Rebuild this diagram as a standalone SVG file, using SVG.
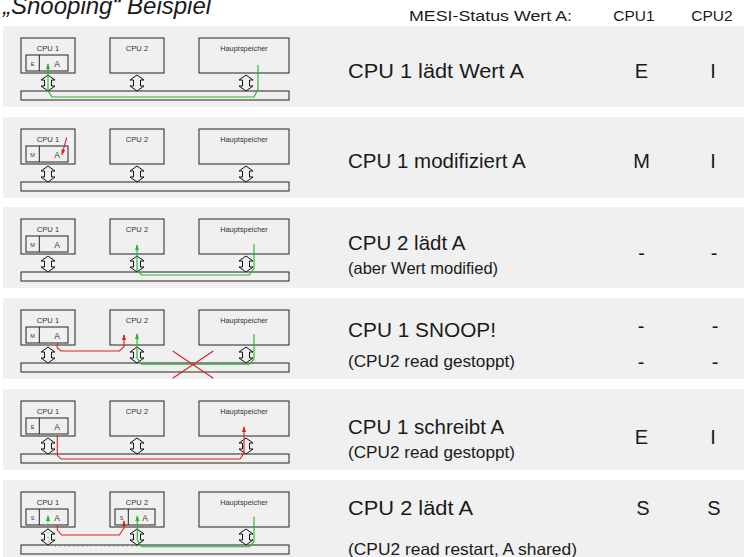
<svg xmlns="http://www.w3.org/2000/svg" xmlns:xlink="http://www.w3.org/1999/xlink" width="744" height="557" viewBox="0 0 744 557">
<defs>
<style>
.band{fill:#f0f0f0}
.box{fill:#f0f0f0;stroke:#222;stroke-width:1}
.bus{fill:#f0f0f0;stroke:#222;stroke-width:1}
.dbl{fill:#f0f0f0;stroke:#111;stroke-width:1}
.lbl{font-family:"Liberation Sans",Arial,sans-serif;fill:#333;text-anchor:middle}
.t7{font-size:7.6px}
.t6{font-size:7.4px}
.t5{font-size:5.5px}
.t8{font-size:8.5px}
.g{fill:none;stroke:#22b822;stroke-width:1.1}
.r{fill:none;stroke:#e02020;stroke-width:1.1}
.gd{fill:none;stroke:#22b822;stroke-width:1.1;stroke-dasharray:1 3.5}
.main{font-family:"Liberation Sans",Arial,sans-serif;font-size:20.5px;fill:#1a1a1a}
.sub{font-family:"Liberation Sans",Arial,sans-serif;font-size:16.5px;fill:#1a1a1a}
.st{font-family:"Liberation Sans",Arial,sans-serif;font-size:20px;fill:#1a1a1a;text-anchor:middle}
.hd{font-family:"Liberation Sans",Arial,sans-serif;font-size:15.5px;fill:#1a1a1a}
</style>
<marker id="ag" markerWidth="6" markerHeight="6" refX="5" refY="3" orient="auto" markerUnits="userSpaceOnUse" viewBox="0 0 6 6"><path d="M0,1 L6,3 L0,5 Z" fill="#22b822"/></marker>
<marker id="ar" markerWidth="6" markerHeight="6" refX="5" refY="3" orient="auto" markerUnits="userSpaceOnUse" viewBox="0 0 6 6"><path d="M0,1 L6,3 L0,5 Z" fill="#e02020"/></marker>
<path id="dbl" class="dbl" d="M0,0 L7,5 L3.5,5 L3.5,11 L7,11 L0,16 L-7,11 L-3.5,11 L-3.5,5 L-7,5 Z"/>
<g id="base">
<rect class="band" x="3" y="0" width="741" height="81"/>
<rect class="box" x="21" y="12" width="54" height="35"/>
<rect class="box" x="110" y="12" width="54" height="35"/>
<rect class="box" x="199" y="12" width="90" height="35"/>
<text class="lbl t7" x="48" y="24.5">CPU 1</text>
<text class="lbl t7" x="137" y="24.5">CPU 2</text>
<text class="lbl t6" x="244" y="24.5">Hauptspeicher</text>
<rect class="bus" x="21" y="65" width="268" height="9"/>
<use xlink:href="#dbl" x="48" y="49"/>
<use xlink:href="#dbl" x="137" y="49"/>
<use xlink:href="#dbl" x="246" y="49"/>
<rect class="box" x="26" y="29" width="42" height="16"/>
<line x1="39.3" y1="29" x2="39.3" y2="45" stroke="#222" stroke-width="1"/>
<text class="lbl t8" x="57" y="40.5">A</text>
</g>
</defs>
<text x="3" y="14" font-family="Liberation Sans,Arial,sans-serif" font-style="italic" font-size="24" fill="#1a1a1a">„Snooping“ Beispiel</text>
<g id="header">
<text class="hd" x="409" y="21" textLength="163" lengthAdjust="spacingAndGlyphs">MESI-Status Wert A:</text>
<text class="hd" x="634" y="21" text-anchor="middle">CPU1</text>
<text class="hd" x="712" y="21" text-anchor="middle">CPU2</text>
</g>
<g id="row1" transform="translate(0,26)">
<use xlink:href="#base"/>
<text class="lbl t5" x="32.5" y="39.5">E</text>
<g class="connectors"><path class="g" d="M258,39 V63 L254,71 H52 L48,65 V38" marker-end="url(#ag)"/></g>
<text class="main" x="348" y="52" textLength="176" lengthAdjust="spacingAndGlyphs">CPU 1 lädt Wert A</text>
<text class="st" x="641.5" y="52">E</text>
<text class="st" x="713" y="52">I</text>
</g>
<g id="row2" transform="translate(0,117)">
<use xlink:href="#base"/>
<text class="lbl t5" x="32.5" y="39.5">M</text>
<g class="connectors"><path class="r" d="M66.7,20.5 L62,37.5" marker-end="url(#ar)"/></g>
<text class="main" x="348" y="51">CPU 1 modifiziert A</text>
<text class="st" x="641.5" y="51">M</text>
<text class="st" x="713" y="51">I</text>
</g>
<g id="row3" transform="translate(0,207)">
<use xlink:href="#base"/>
<text class="lbl t5" x="32.5" y="39.5">M</text>
<g class="connectors"><path class="g" d="M254,37 V61 L249.3,68 H141.7 L137,63 V38" marker-end="url(#ag)"/></g>
<text class="main" x="348" y="43">CPU 2 lädt A</text>
<text class="sub" x="348" y="67" font-size="14px">(aber Wert modified)</text>
<text class="st" x="641.5" y="53">-</text>
<text class="st" x="714" y="53">-</text>
</g>
<g id="row4" transform="translate(0,298)">
<use xlink:href="#base"/>
<text class="lbl t5" x="32.5" y="39.5">M</text>
<g class="connectors">
<path class="r" d="M57.3,45 V50 L61,53 H119.3 L124,48.7 V37" marker-end="url(#ar)"/>
<path class="g" d="M254,36 V61 L249.3,66.3 H141.7 L137,60 V36" marker-end="url(#ag)"/>
<path class="r" d="M172.7,53 L213.3,80.3 M213.3,53 L172.7,80.3"/>
</g>
<text class="main" x="348" y="39" textLength="148" lengthAdjust="spacingAndGlyphs">CPU 1 SNOOP!</text>
<text class="sub" x="348" y="69" textLength="167" lengthAdjust="spacingAndGlyphs">(CPU2 read gestoppt)</text>
<text class="st" x="641" y="35">-</text>
<text class="st" x="715" y="35">-</text>
<text class="st" x="641" y="71">-</text>
<text class="st" x="715" y="71">-</text>
</g>
<g id="row5" transform="translate(0,389)">
<use xlink:href="#base"/>
<text class="lbl t5" x="32.5" y="39.5">E</text>
<g class="connectors"><path class="r" d="M57.3,46 V66 L61,70 H240 L244,64 V38" marker-end="url(#ar)"/></g>
<text class="main" x="348" y="45">CPU 1 schreibt A</text>
<text class="sub" x="348" y="69" textLength="167" lengthAdjust="spacingAndGlyphs">(CPU2 read gestoppt)</text>
<text class="st" x="641.5" y="55">E</text>
<text class="st" x="713" y="55">I</text>
</g>
<g id="row6" transform="translate(0,480)">
<use xlink:href="#base"/>
<text class="lbl t5" x="32.5" y="39.5">S</text>
<rect class="box" x="115" y="29" width="40" height="16"/>
<line x1="128.3" y1="29" x2="128.3" y2="45" stroke="#222" stroke-width="1"/>
<text class="lbl t5" x="121.5" y="39.5">S</text>
<text class="lbl t8" x="145" y="40.5">A</text>
<g class="connectors">
<path class="r" d="M57.3,45 V50 L61.7,55 H119.3 L124,48 V41" marker-end="url(#ar)"/>
<path class="g" d="M254,36.7 V61.7 L249.3,66.7 H141.7 L137.3,60 V36" marker-end="url(#ag)"/>
<path class="gd" d="M137,66 H51.7 L48,60 V42"/>
<path class="g" d="M48,42 V36" marker-end="url(#ag)"/>
</g>
<text class="main" x="348" y="35" textLength="125" lengthAdjust="spacingAndGlyphs">CPU 2 lädt A</text>
<text class="sub" x="348" y="75" textLength="229" lengthAdjust="spacingAndGlyphs">(CPU2 read restart, A shared)</text>
<text class="st" x="643" y="35">S</text>
<text class="st" x="714" y="35">S</text>
</g>
</svg>
